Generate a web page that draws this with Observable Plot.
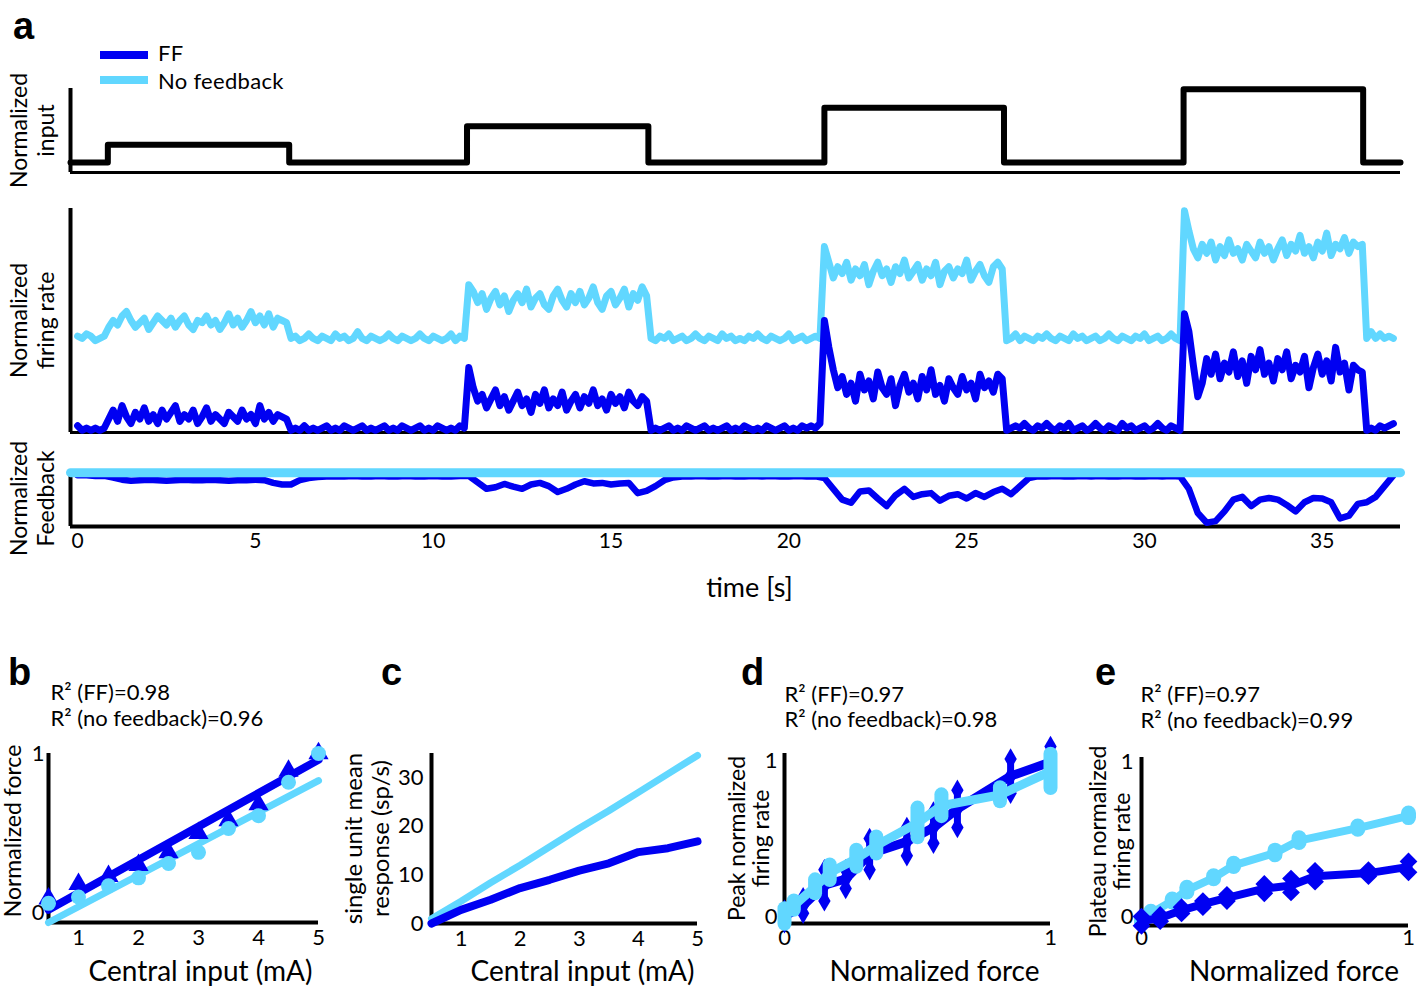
<!DOCTYPE html>
<html><head><meta charset="utf-8">
<script src="https://cdn.jsdelivr.net/npm/d3@7"></script>
<script src="https://cdn.jsdelivr.net/npm/@observablehq/plot@0.6"></script>
<style>
body{margin:0;background:#fff;}
#root{position:relative;width:1419px;height:987px;font-family:Lato,"Open Sans",sans-serif;color:#000;}
.leg{position:absolute;height:8px;width:48px;}
.legt{position:absolute;font-size:22px;line-height:22px;letter-spacing:0.3px;}
</style></head><body><div id="root"></div>
<script>
const DARK = "#0000f2", LIGHT = "#61d7ff";
const FONT = "Lato, 'Open Sans', sans-serif";

// ---------- panel a ----------
const rateStep = 0.125;      // seconds between firing-rate samples
const feedbackStep = 0.25;   // seconds between feedback samples
const timeRange = [-0.2, 37.2];
const timeTicks = [0, 5, 10, 15, 20, 25, 30, 35];
const inputBaseline = 0.12;
const inputOnsets = [0.85, 10.95, 21.0, 31.1];
const inputOffsets = [5.95, 16.05, 26.05, 36.15];
const inputLevels = [0.33, 0.55, 0.77, 0.99];

const rateNoFeedback = [
 0.43,0.42,0.44,0.43,0.41,0.42,0.43,
 0.47,0.50,0.48,0.52,0.54,0.50,0.47,0.49,0.51,0.46, 0.49,0.52,0.50,0.48,0.51,0.47,0.50,0.52,0.48,0.46,
 0.50,0.49,0.52,0.48,0.50,0.46,0.49,0.53,0.48,0.51, 0.47,0.50,0.54,0.49,0.52,0.48,0.53,0.47,0.51,0.50, 0.49,
 0.42,0.43,0.41,0.42,0.44,0.42,0.41,0.43,0.42,0.41, 0.44,0.42,0.43,0.41,0.42,0.45,0.42,0.41,0.43,0.42,
 0.41,0.42,0.44,0.42,0.41,0.43,0.42,0.41,0.42,0.44, 0.42,0.41,0.43,0.42,0.41,0.42,0.44,0.41,0.43,0.42,
 0.66,0.63,0.58,0.62,0.55,0.60,0.63,0.57,0.61,0.54, 0.59,0.62,0.58,0.64,0.56,0.60,0.62,0.57,0.55,0.61,
 0.64,0.59,0.56,0.62,0.58,0.63,0.57,0.60,0.65,0.58, 0.55,0.61,0.63,0.57,0.60,0.64,0.56,0.62,0.59,0.65, 0.61,
 0.42,0.41,0.43,0.42,0.44,0.41,0.42,0.43,0.41,0.42, 0.44,0.42,0.41,0.43,0.42,0.41,0.44,0.42,0.43,0.41,
 0.42,0.41,0.43,0.42,0.44,0.42,0.41,0.43,0.42,0.41, 0.42,0.44,0.41,0.42,0.43,0.41,0.42,0.43,0.42,
 0.83,0.76,0.69,0.74,0.71,0.76,0.68,0.73,0.70,0.75, 0.66,0.72,0.76,0.70,0.73,0.67,0.74,0.71,0.77,0.69,
 0.72,0.75,0.68,0.73,0.70,0.76,0.66,0.72,0.74,0.69, 0.73,0.71,0.77,0.68,0.72,0.75,0.70,0.67,0.74,0.76, 0.73,
 0.41,0.42,0.44,0.41,0.43,0.42,0.41,0.43,0.42,0.44, 0.42,0.41,0.43,0.42,0.41,0.44,0.42,0.43,0.41,0.42,
 0.43,0.41,0.42,0.44,0.42,0.41,0.43,0.42,0.41,0.43, 0.42,0.44,0.41,0.42,0.43,0.41,0.42,0.44,0.42,0.41,
 0.99,0.90,0.82,0.78,0.84,0.80,0.85,0.77,0.83,0.79, 0.86,0.80,0.82,0.77,0.84,0.81,0.78,0.85,0.80,0.83,
 0.77,0.82,0.86,0.79,0.84,0.81,0.88,0.80,0.83,0.78, 0.85,0.81,0.89,0.79,0.84,0.82,0.87,0.80,0.85,0.83, 0.84,
 0.42,0.45,0.42,0.44,0.42,0.43,0.42];
const rateFF = [
 0.03,0.01,0.02,0.01,0.02,0.01,0.02,
 0.06,0.10,0.05,0.12,0.07,0.04,0.09,0.06,0.11,0.05, 0.08,0.04,0.10,0.06,0.09,0.12,0.05,0.08,0.06,0.10,
 0.04,0.07,0.11,0.05,0.08,0.06,0.04,0.09,0.07,0.05, 0.10,0.06,0.08,0.04,0.12,0.06,0.09,0.05,0.08,0.07, 0.06,
 0.01,0.02,0.01,0.03,0.01,0.02,0.01,0.02,0.03,0.01, 0.02,0.01,0.03,0.02,0.01,0.02,0.03,0.01,0.02,0.01,
 0.02,0.03,0.01,0.02,0.01,0.03,0.02,0.01,0.02,0.03, 0.01,0.02,0.01,0.03,0.02,0.01,0.02,0.01,0.03,0.02,
 0.29,0.20,0.14,0.17,0.11,0.15,0.19,0.12,0.16,0.10, 0.14,0.18,0.12,0.15,0.09,0.17,0.13,0.19,0.11,0.15,
 0.12,0.18,0.10,0.14,0.17,0.11,0.16,0.13,0.19,0.12, 0.15,0.10,0.17,0.13,0.16,0.11,0.18,0.14,0.12,0.16, 0.14,
 0.01,0.02,0.01,0.02,0.03,0.01,0.02,0.01,0.03,0.02, 0.01,0.02,0.03,0.01,0.02,0.01,0.02,0.03,0.01,0.02,
 0.01,0.03,0.02,0.01,0.02,0.01,0.03,0.02,0.01,0.02, 0.03,0.01,0.02,0.01,0.03,0.02,0.03,0.02,0.04,
 0.50,0.38,0.28,0.20,0.25,0.17,0.22,0.14,0.26,0.19, 0.23,0.15,0.27,0.20,0.17,0.24,0.12,0.21,0.26,0.18,
 0.22,0.15,0.25,0.19,0.28,0.17,0.21,0.14,0.24,0.20, 0.17,0.25,0.19,0.22,0.15,0.26,0.20,0.23,0.18,0.26, 0.24,
 0.01,0.02,0.03,0.02,0.04,0.02,0.01,0.03,0.02,0.04, 0.02,0.01,0.03,0.02,0.04,0.01,0.02,0.03,0.01,0.02,
 0.04,0.02,0.01,0.03,0.02,0.01,0.04,0.02,0.03,0.01, 0.02,0.03,0.01,0.02,0.04,0.02,0.01,0.03,0.02,0.01,
 0.53,0.45,0.30,0.16,0.22,0.33,0.26,0.35,0.24,0.31, 0.27,0.36,0.25,0.32,0.22,0.34,0.28,0.37,0.26,0.31,
 0.23,0.33,0.28,0.36,0.24,0.30,0.27,0.34,0.20,0.29, 0.35,0.26,0.32,0.23,0.38,0.27,0.31,0.19,0.30,0.28, 0.27,
 0.01,0.02,0.01,0.03,0.02,0.03,0.04];
const feedbackFF = [
 -0.05,-0.05,-0.06,-0.06,
 -0.09,-0.13,-0.15,-0.14,-0.13,-0.14,-0.15,-0.14,-0.13,-0.14,-0.14,-0.13,-0.14,-0.15,-0.14,-0.14,-0.13,-0.14,-0.19,-0.22,
 -0.22,-0.14,-0.10,-0.08,-0.07,-0.07,-0.07,-0.06,-0.07,-0.07,-0.06,-0.07,-0.07,-0.06,-0.07,-0.07,-0.06,-0.07,-0.07,-0.06,
 -0.06,-0.18,-0.30,-0.27,-0.21,-0.26,-0.30,-0.22,-0.19,-0.25,-0.36,-0.30,-0.22,-0.16,-0.20,-0.19,-0.22,-0.20,-0.19,-0.38,-0.34,
 -0.25,-0.14,-0.09,-0.07,-0.07,-0.06,-0.07,-0.07,-0.06,-0.07,-0.07,-0.06,-0.07,-0.06,-0.07,-0.07,-0.06,-0.07,-0.07,
 -0.10,-0.30,-0.50,-0.56,-0.35,-0.33,-0.48,-0.62,-0.42,-0.30,-0.45,-0.40,-0.38,-0.52,-0.43,-0.40,-0.48,-0.38,-0.45,-0.36,-0.30,
 -0.40,-0.25,-0.10,-0.07,-0.07,-0.06,-0.07,-0.07,-0.06,-0.07,-0.06,-0.07,-0.07,-0.06,-0.07,-0.07,-0.06,-0.07,-0.06,-0.07,
 -0.30,-0.75,-0.93,-0.90,-0.72,-0.50,-0.45,-0.62,-0.50,-0.47,-0.50,-0.60,-0.72,-0.55,-0.47,-0.48,-0.55,-0.85,-0.80,-0.58,
 -0.55,-0.45,-0.25,-0.05];
const feedbackNoFeedback = [0, 0]; // constant, over timeRange

// ---------- panel b / c ----------
const centralInput = [0.5, 1, 1.5, 2, 2.5, 3, 3.5, 4, 4.5, 5];
const forceFF = [0.09, 0.18, 0.23, 0.30, 0.38, 0.50, 0.58, 0.68, 0.89, 1.0];
const forceNoFb = [0.06, 0.10, 0.17, 0.22, 0.31, 0.38, 0.53, 0.61, 0.82, 1.0];
const fitInput = [0.5, 5];
const fitForceFF = [0.02, 0.96];
const fitForceNoFb = [-0.06, 0.83];
const unitRespFF = [0, 2.8, 4.9, 7.3, 9.0, 10.9, 12.4, 14.7, 15.5, 16.9];
const unitRespNoFb = [1.0, 4.6, 8.4, 12.0, 15.8, 19.6, 23.2, 27.0, 30.8, 34.6];

// ---------- panel d / e ----------
const normForceFF = [0, 0.07, 0.15, 0.23, 0.32, 0.46, 0.56, 0.65, 0.85, 1.0];
const normForceNoFb = [0, 0.035, 0.115, 0.17, 0.27, 0.345, 0.5, 0.59, 0.81, 1.0];
const peakFF = [0, 0.07, 0.20, 0.24, 0.40, 0.48, 0.57, 0.69, 0.90, 0.99];
const peakErrFF = [0.04, 0.05, 0.10, 0.06, 0.10, 0.09, 0.10, 0.12, 0.11, 0.10];
const peakNoFb = [0.0, 0.07, 0.19, 0.28, 0.37, 0.455, 0.60, 0.71, 0.78, 0.93];
const peakErrNoFb = [0.05, 0.03, 0.045, 0.05, 0.055, 0.055, 0.095, 0.07, 0.045, 0.11];
const plateauFF = [-0.03, -0.01, 0.04, 0.08, 0.12, 0.18, 0.20, 0.26, 0.28, 0.32];
const plateauErrFF = [0.03, 0.02, 0.02, 0.02, 0.02, 0.03, 0.045, 0.035, 0.02, 0.035];
const plateauNoFb = [-0.03, 0.02, 0.10, 0.17, 0.25, 0.33, 0.41, 0.49, 0.57, 0.65];
const plateauErrNoFb = [0.01, 0.01, 0.01, 0.015, 0.01, 0.01, 0.015, 0.015, 0.01, 0.015];

// ---------- build ----------
const root = document.getElementById("root");
function place(node, left, top) {
  node.style.position = "absolute"; node.style.left = left + "px"; node.style.top = top + "px";
  root.appendChild(node);
}
const st = (fs) => ({background: "transparent", fontFamily: FONT, fontSize: fs + "px", overflow: "visible", color: "#000"});
const fmt = d3.format("d");
const series = (vals, step) => vals.map((v, i) => ({t: i * step, v}));

const inputPts = [{t: timeRange[0], v: inputBaseline}];
inputOnsets.forEach((on, k) => {
  inputPts.push({t: on, v: inputBaseline}, {t: on, v: inputLevels[k]},
                {t: inputOffsets[k], v: inputLevels[k]}, {t: inputOffsets[k], v: inputBaseline});
});
inputPts.push({t: timeRange[1], v: inputBaseline});

const lineOpt = (c, w) => ({x: "t", y: "v", stroke: c, strokeWidth: w, strokeLinejoin: "round", strokeLinecap: "round"});
const ylab = (txt, dx, fs, lh, dy = 0) => Plot.text([txt], {frameAnchor: "left", rotate: -90, dx, dy, fontSize: fs, lineHeight: lh, textAnchor: "middle", lineAnchor: "middle"});
const letter = (txt, dx, dy) => Plot.text([txt], {frameAnchor: "top-left", dx, dy, fontSize: 38, fontWeight: "bold", fontFamily: "'Liberation Sans', Arial, sans-serif", textAnchor: "middle", lineAnchor: "middle"});

// a1: input
place(Plot.plot({
  width: 1419, height: 180, marginLeft: 70, marginRight: 19, marginTop: 88, marginBottom: 8,
  x: {domain: timeRange, axis: null}, y: {domain: [0, 1], axis: null}, style: st(20),
  marks: [
    Plot.ruleY([0], {strokeWidth: 3}),
    Plot.ruleX([timeRange[0]], {strokeWidth: 4}),
    Plot.line(inputPts, lineOpt("#000", 6)),
    ylab("Normalized\ninput", -38.5, 23, 1.17),
    letter("a", -47, -62)
  ]
}), 0, 0);

// a2: firing rate
place(Plot.plot({
  width: 1419, height: 270, marginLeft: 70, marginRight: 19, marginTop: 28, marginBottom: 18,
  x: {domain: timeRange, axis: null}, y: {domain: [0, 1], axis: null}, style: st(20),
  marks: [
    Plot.ruleY([0], {strokeWidth: 3}),
    Plot.ruleX([timeRange[0]], {strokeWidth: 4}),
    Plot.line(series(rateNoFeedback, rateStep), lineOpt(LIGHT, 7)),
    Plot.line(series(rateFF, rateStep), lineOpt(DARK, 7)),
    ylab("Normalized\nfiring rate", -38.5, 23, 1.17)
  ]
}), 0, 180);

// a3: feedback
place(Plot.plot({
  width: 1419, height: 180, marginLeft: 70, marginRight: 19, marginTop: 40, marginBottom: 84,
  x: {domain: timeRange}, y: {domain: [-1, 0.04], axis: null}, style: st(21),
  marks: [
    Plot.ruleY([-1], {strokeWidth: 4}),
    Plot.ruleX([timeRange[0]], {strokeWidth: 4}),
    Plot.axisX({ticks: timeTicks, tickSize: 0, tickPadding: 7, label: null, tickFormat: fmt}),
    Plot.line(series(feedbackFF, feedbackStep), lineOpt(DARK, 6.5)),
    Plot.line(timeRange.map((t, i) => ({t, v: feedbackNoFeedback[i]})), lineOpt(LIGHT, 9)),
    ylab("Normalized\nFeedback", -38.5, 23, 1.17),
    Plot.text(["time [s]"], {frameAnchor: "bottom", dx: 14, dy: 62, fontSize: 27, lineAnchor: "middle"})
  ]
}), 0, 430);

// legend
root.insertAdjacentHTML("beforeend",
  `<div class="leg" style="left:100px;top:51px;background:${DARK}"></div>
   <div class="legt" style="left:158px;top:42px">FF</div>
   <div class="leg" style="left:100px;top:76px;background:${LIGHT}"></div>
   <div class="legt" style="left:158px;top:70px">No feedback</div>`);

const r2 = (l1, l2, dx, dy1, dy2) => [
  Plot.text([l1], {frameAnchor: "top-left", dx, dy: dy1, fontSize: 22, textAnchor: "start", lineAnchor: "middle"}),
  Plot.text([l2], {frameAnchor: "top-left", dx, dy: dy2, fontSize: 22, textAnchor: "start", lineAnchor: "middle"})
];
const xlab = (txt, dx, dy) => Plot.text([txt], {frameAnchor: "bottom", dx, dy, fontSize: 28, lineAnchor: "middle"});

// b
const bFF = centralInput.map((x, i) => ({x, y: forceFF[i]}));
const bNF = centralInput.map((x, i) => ({x, y: forceNoFb[i]}));
place(Plot.plot({
  width: 360, height: 347, marginLeft: 48, marginRight: 42, marginTop: 113, marginBottom: 65,
  x: {domain: [0.5, 5]}, y: {domain: [-0.06, 1.0]}, style: st(22),
  marks: [
    Plot.ruleY([-0.06], {strokeWidth: 4}),
    Plot.ruleX([0.5], {strokeWidth: 4}),
    Plot.axisX({ticks: [1, 2, 3, 4, 5], tickSize: 0, tickPadding: 7, label: null, tickFormat: fmt}),
    Plot.axisY({ticks: [0, 1], tickSize: 0, tickPadding: 4, label: null, tickFormat: fmt}),
    Plot.line(fitInput.map((x, i) => ({x, y: fitForceNoFb[i]})), {x: "x", y: "y", stroke: LIGHT, strokeWidth: 7}),
    Plot.line(fitInput.map((x, i) => ({x, y: fitForceFF[i]})), {x: "x", y: "y", stroke: DARK, strokeWidth: 8}),
    Plot.dot(bFF, {x: "x", y: "y", symbol: "triangle", r: 7.5, fill: DARK}),
    Plot.dot(bNF, {x: "x", y: "y", r: 7.5, fill: LIGHT}),
    ylab("Normalized force", -36, 23, 1.1, -7),
    xlab("Central input (mA)", 17, 50),
    ...r2("R² (FF)=0.98", "R² (no feedback)=0.96", 2, -61, -35),
    letter("b", -29, -81)
  ]
}), 0, 640);

// c
place(Plot.plot({
  width: 390, height: 347, marginLeft: 101, marginRight: 23, marginTop: 113, marginBottom: 64,
  x: {domain: [0.5, 5]}, y: {domain: [0, 35]}, style: st(22),
  marks: [
    Plot.ruleY([0], {strokeWidth: 4}),
    Plot.ruleX([0.5], {strokeWidth: 4}),
    Plot.axisX({ticks: [1, 2, 3, 4, 5], tickSize: 0, tickPadding: 7, label: null, tickFormat: fmt}),
    Plot.axisY({ticks: [0, 10, 20, 30], tickSize: 0, tickPadding: 8, label: null, tickFormat: fmt}),
    Plot.line(centralInput.map((x, i) => ({x, y: unitRespNoFb[i]})), {x: "x", y: "y", stroke: LIGHT, strokeWidth: 7, strokeLinejoin: "round"}),
    Plot.line(centralInput.map((x, i) => ({x, y: unitRespFF[i]})), {x: "x", y: "y", stroke: DARK, strokeWidth: 8, strokeLinejoin: "round"}),
    ylab("single unit mean\nresponse (sp/s)", -65, 24, 1.12),
    xlab("Central input (mA)", 18, 49),
    letter("c", -40, -81)
  ]
}), 330, 640);

// d
const dFF = normForceFF.map((x, i) => ({x, y: peakFF[i], lo: peakFF[i] - peakErrFF[i], hi: peakFF[i] + peakErrFF[i]}));
const dNF = normForceNoFb.map((x, i) => ({x, y: peakNoFb[i], lo: peakNoFb[i] - peakErrNoFb[i], hi: peakNoFb[i] + peakErrNoFb[i]}));
place(Plot.plot({
  width: 380, height: 347, marginLeft: 84, marginRight: 30, marginTop: 113, marginBottom: 64,
  x: {domain: [0, 1]}, y: {domain: [-0.045, 1.045]}, style: st(22),
  marks: [
    Plot.ruleY([-0.045], {strokeWidth: 4}),
    Plot.ruleX([0], {strokeWidth: 4}),
    Plot.axisX({ticks: [0, 1], tickSize: 0, tickPadding: 6, label: null, tickFormat: fmt}),
    Plot.axisY({ticks: [0, 1], tickSize: 0, tickPadding: 7, label: null, tickFormat: fmt}),
    Plot.ruleX(dFF, {x: "x", y1: "lo", y2: "hi", stroke: DARK, strokeWidth: 7}),
    Plot.dot(dFF, {x: "x", y: "lo", symbol: "diamond", r: 6.5, fill: DARK}),
    Plot.dot(dFF, {x: "x", y: "hi", symbol: "diamond", r: 6.5, fill: DARK}),
    Plot.line(dFF, {x: "x", y: "y", stroke: DARK, strokeWidth: 9, strokeLinejoin: "round"}),
    Plot.dot(dFF, {x: "x", y: "y", symbol: "diamond", r: 6.5, fill: DARK}),
    Plot.line(dNF, {x: "x", y: "y", stroke: LIGHT, strokeWidth: 9, strokeLinejoin: "round"}),
    Plot.ruleX(dNF, {x: "x", y1: "lo", y2: "hi", stroke: LIGHT, strokeWidth: 14, strokeLinecap: "round"}),
    ylab("Peak normalized\nfiring rate", -35.5, 23, 1.05),
    xlab("Normalized force", 17, 49),
    ...r2("R² (FF)=0.97", "R² (no feedback)=0.98", 0, -59, -34),
    letter("d", -32, -81)
  ]
}), 700, 640);

// e
const eFF = normForceFF.map((x, i) => ({x, y: plateauFF[i], lo: plateauFF[i] - plateauErrFF[i], hi: plateauFF[i] + plateauErrFF[i]}));
const eNF = normForceNoFb.map((x, i) => ({x, y: plateauNoFb[i], lo: plateauNoFb[i] - plateauErrNoFb[i], hi: plateauNoFb[i] + plateauErrNoFb[i]}));
place(Plot.plot({
  width: 349, height: 347, marginLeft: 71, marginRight: 11, marginTop: 117, marginBottom: 62,
  x: {domain: [0, 1]}, y: {domain: [-0.058, 1.026]}, style: st(22),
  marks: [
    Plot.ruleY([-0.058], {strokeWidth: 4}),
    Plot.ruleX([0], {strokeWidth: 4}),
    Plot.axisX({ticks: [0, 1], tickSize: 0, tickPadding: 4, label: null, tickFormat: fmt}),
    Plot.axisY({ticks: [0, 1], tickSize: 0, tickPadding: 8, label: null, tickFormat: fmt}),
    Plot.line(eNF, {x: "x", y: "y", stroke: LIGHT, strokeWidth: 8, strokeLinejoin: "round"}),
    Plot.ruleX(eNF, {x: "x", y1: "lo", y2: "hi", stroke: LIGHT, strokeWidth: 15, strokeLinecap: "round"}),
    Plot.line(eFF, {x: "x", y: "y", stroke: DARK, strokeWidth: 8, strokeLinejoin: "round"}),
    Plot.ruleX(eFF, {x: "x", y1: "lo", y2: "hi", stroke: DARK, strokeWidth: 6}),
    Plot.dot(eFF, {x: "x", y: "lo", symbol: "diamond2", r: 8, fill: DARK}),
    Plot.dot(eFF, {x: "x", y: "hi", symbol: "diamond2", r: 8, fill: DARK}),
    ylab("Plateau normalized\nfiring rate", -31, 23, 1.05),
    xlab("Normalized force", 19, 47),
    ...r2("R² (FF)=0.97", "R² (no feedback)=0.99", -1, -63, -37),
    letter("e", -36, -85)
  ]
}), 1070, 640);
</script></body></html>
